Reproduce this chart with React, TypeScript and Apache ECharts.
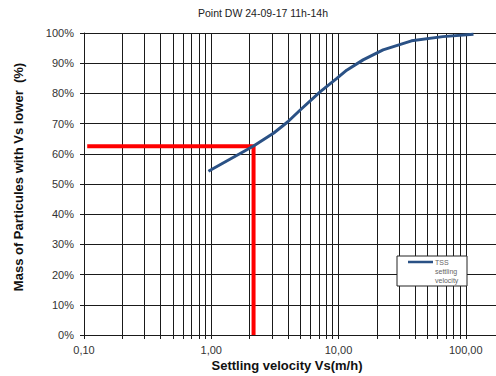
import React, { useEffect, useRef } from "react";
import * as echarts from "echarts";

const titleText = "Point DW 24-09-17 11h-14h";
const xAxisTitle = "Settling velocity Vs(m/h)";
const yAxisTitle = "Mass of Particules with Vs lower  (%)";
const legendLines = ["TSS", "settling", "velocity"];

// TSS settling velocity curve: [velocity m/h, % mass lower]
const velocities = [0.95, 2.15, 3.1, 4.0, 5.0, 7.2, 9.7, 11.6, 15.6, 22.4, 37.5, 66, 115];
const massLower = [54.2, 62.6, 66.9, 70.6, 74.5, 80.6, 85.0, 87.7, 91.1, 94.4, 97.4, 98.8, 99.6];

// red reading lines
const markerVelocity = 2.15;
const markerMass = 62.5;
const markerStartVelocity = 0.106;

const FONT = "Liberation Sans, Arial, sans-serif";

export default function App() {
  const ref = useRef<HTMLDivElement>(null);
  useEffect(() => {
    document.body.style.margin = "0";
    if (!ref.current) return;
    const chart = echarts.init(ref.current, undefined, { renderer: "svg" });
    const gridColor = "#1a1a1a";
    chart.setOption({
      animation: false,
      backgroundColor: "#ffffff",
      textStyle: { fontFamily: FONT },
      grid: { left: 84, right: -97, top: 33, bottom: 41, outerBoundsMode: "none" },
      xAxis: {
        type: "log",
        logBase: 10,
        min: 0.1,
        max: 1000,
        axisLine: { show: true, lineStyle: { color: gridColor, width: 1 } },
        axisTick: { show: true, length: 4, lineStyle: { color: gridColor } },
        minorTick: { show: true, splitNumber: 9, length: 4, lineStyle: { color: gridColor } },
        splitLine: { show: true, lineStyle: { color: gridColor, width: 1 } },
        minorSplitLine: { show: true, lineStyle: { color: gridColor, width: 1 } },
        axisLabel: {
          color: "#333",
          fontSize: 11,
          fontFamily: FONT,
          margin: 9,
          formatter: (v: number) => (v > 100.5 ? "" : Number(v).toFixed(2).replace(".", ",")),
        },
      },
      yAxis: {
        type: "value",
        min: 0,
        max: 100,
        interval: 10,
        axisLine: { show: true, lineStyle: { color: gridColor, width: 1 } },
        axisTick: { show: true, length: 4, lineStyle: { color: gridColor } },
        splitLine: { show: true, lineStyle: { color: gridColor, width: 1 } },
        axisLabel: {
          color: "#333",
          fontSize: 11,
          fontFamily: FONT,
          margin: 10,
          formatter: "{value}%",
        },
      },
      series: [
        {
          type: "line",
          name: "TSS settling velocity",
          data: velocities.map((v, i) => [v, massLower[i]]),
          symbol: "none",
          smooth: false,
          lineStyle: { color: "#2a5185", width: 3 },
          z: 5,
        },
        {
          type: "line",
          name: "marker",
          data: [
            [markerStartVelocity, markerMass],
            [markerVelocity, markerMass],
            [markerVelocity, 0],
          ],
          symbol: "none",
          lineStyle: { color: "#ff0000", width: 4 },
          z: 4,
        },
      ],
      graphic: [
        {
          type: "text",
          x: 263,
          y: 13,
          style: {
            text: titleText,
            fontSize: 10.5,
            fontFamily: FONT,
            fill: "#222",
            textAlign: "center",
            textVerticalAlign: "middle",
          },
        },
        {
          type: "text",
          x: 287,
          y: 365,
          style: {
            text: xAxisTitle,
            fontSize: 13,
            fontWeight: "bold",
            fontFamily: FONT,
            fill: "#111",
            textAlign: "center",
            textVerticalAlign: "middle",
          },
        },
        {
          type: "text",
          x: 18,
          y: 177,
          rotation: Math.PI / 2,
          style: {
            text: yAxisTitle,
            fontSize: 13,
            fontWeight: "bold",
            fontFamily: FONT,
            fill: "#111",
            textAlign: "center",
            textVerticalAlign: "middle",
          },
        },
        {
          type: "rect",
          shape: { x: 397, y: 256, width: 70, height: 30 },
          style: { fill: "#ffffff", stroke: "#222", lineWidth: 1 },
          z: 10,
        },
        {
          type: "line",
          shape: { x1: 408, y1: 262, x2: 433, y2: 262 },
          style: { stroke: "#2a5185", lineWidth: 2.5 },
          z: 11,
        },
        ...legendLines.map((t, i) => ({
          type: "text",
          x: 435,
          y: 262 + i * 9,
          z: 11,
          style: {
            text: t,
            fontSize: 7,
            fontFamily: FONT,
            fill: "#666",
            textAlign: "left",
            textVerticalAlign: "middle",
          },
        })),
      ],
    });
    return () => chart.dispose();
  }, []);
  return <div ref={ref} style={{ width: 496, height: 376, overflow: "hidden" }} />;
}
